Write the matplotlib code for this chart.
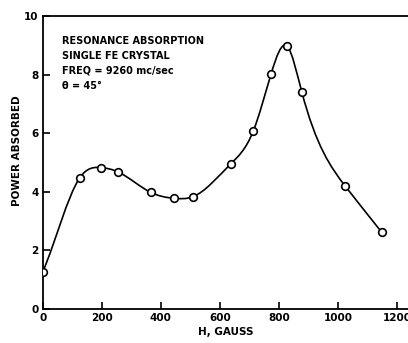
import numpy as np
import matplotlib
matplotlib.use('Agg')
from matplotlib import pyplot as plt
from matplotlib.path import Path
from matplotlib import patches

field = [0, 125, 197, 255, 366, 444, 507, 636, 713, 773, 828, 877, 1024, 1148]
power = [1.28, 4.48, 4.83, 4.68, 3.98, 3.78, 3.83, 4.95, 6.08, 8.02, 8.97, 7.42, 4.2, 2.62]
xticks = [0, 200, 400, 600, 800, 1000, 1200]
yticks = [0, 2, 4, 6, 8, 10]
title_lines = ['RESONANCE ABSORPTION', 'SINGLE FE CRYSTAL', 'FREQ = 9260 mc/sec', '\u03b8 = 45\u00b0']

plt.rcParams['font.family'] = 'DejaVu Sans'
plt.rcParams['font.weight'] = 'bold'

fig = plt.figure(figsize=(4.08, 3.43), dpi=100)
ax = fig.add_axes([0.105, 0.099, 0.895, 0.854])

# clamped cubic spline through the points, drawn as Bezier segments
s_start, s_end = 0.023, -0.013
x = np.array(field, float)
y = np.array(power, float)
n = len(x)
h = np.diff(x)
A = np.zeros((n, n))
r = np.zeros(n)
A[0, :2] = [2 * h[0], h[0]]
r[0] = 6 * ((y[1] - y[0]) / h[0] - s_start)
A[-1, -2:] = [h[-1], 2 * h[-1]]
r[-1] = 6 * (s_end - (y[-1] - y[-2]) / h[-1])
for i in range(1, n - 1):
    A[i, i - 1] = h[i - 1]
    A[i, i] = 2 * (h[i - 1] + h[i])
    A[i, i + 1] = h[i]
    r[i] = 6 * ((y[i + 1] - y[i]) / h[i] - (y[i] - y[i - 1]) / h[i - 1])
M = np.linalg.solve(A, r)
d0 = (y[1:] - y[:-1]) / h - h * (2 * M[:-1] + M[1:]) / 6
d1 = (y[1:] - y[:-1]) / h + h * (M[:-1] + 2 * M[1:]) / 6
verts = [(x[0], y[0])]
codes = [Path.MOVETO]
for i in range(n - 1):
    verts += [(x[i] + h[i] / 3, y[i] + d0[i] * h[i] / 3),
              (x[i + 1] - h[i] / 3, y[i + 1] - d1[i] * h[i] / 3),
              (x[i + 1], y[i + 1])]
    codes += [Path.CURVE4] * 3
ax.add_patch(patches.PathPatch(Path(verts, codes), fill=False, lw=1.2, color='k'))

ax.plot(field, power, 'o', ms=5.5, mfc='white', mec='k', mew=1.2, zorder=3)

ax.set_xlim(0, 1237)
ax.set_ylim(0, 10)
ax.set_xticks(xticks)
ax.set_yticks(yticks)
ax.tick_params(direction='in', length=5, width=1.2, labelsize=7.5, pad=3)
for lab in ax.get_xticklabels() + ax.get_yticklabels():
    lab.set_fontweight('bold')
ax.spines['right'].set_visible(False)
for s in ['left', 'bottom', 'top']:
    ax.spines[s].set_linewidth(1.3)
ax.set_xlabel('H, GAUSS', fontsize=7.5, fontweight='bold', labelpad=3)
ax.set_ylabel('POWER ABSORBED', fontsize=7.5, fontweight='bold')
ax.yaxis.set_label_coords(-0.058, 0.54)

for i, line in enumerate(title_lines):
    ax.text(0.052, 0.915 - i * 0.051, line, transform=ax.transAxes, fontsize=7,
            fontweight='bold', va='center', ha='left')

fig.savefig('out.png', dpi=100)
